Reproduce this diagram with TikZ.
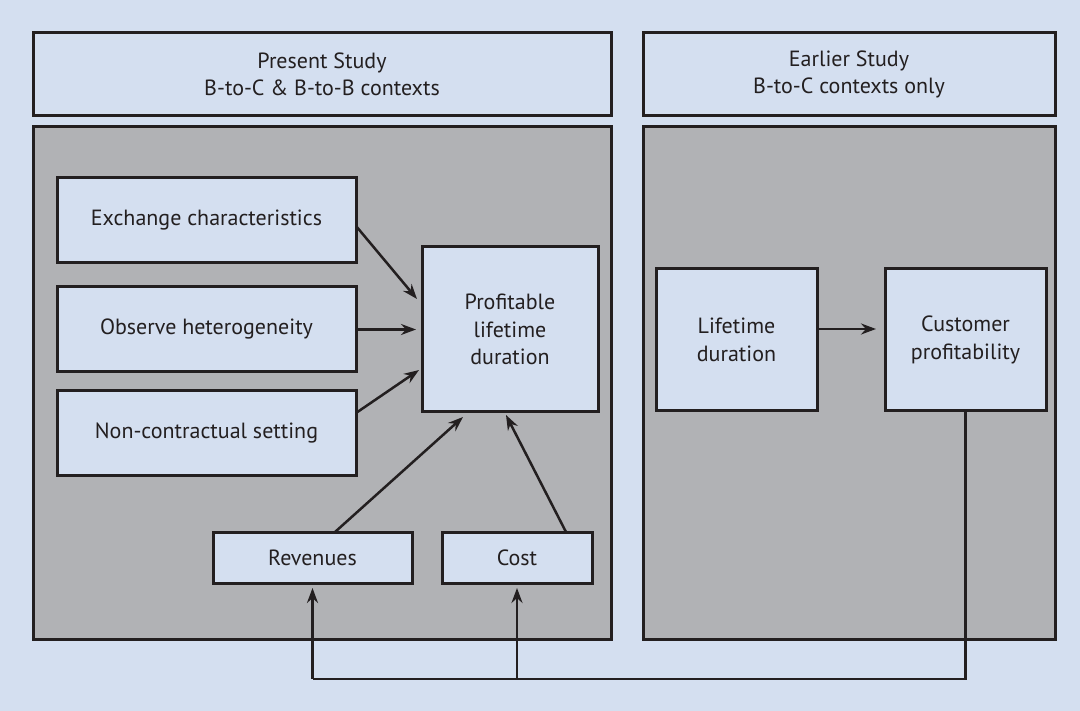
\documentclass[tikz,border=0pt]{standalone}
\usepackage{fontspec}
\setmainfont{PT Sans}
\usetikzlibrary{arrows.meta,calc}
\definecolor{bgblue}{HTML}{D4DFF0}
\definecolor{panelgray}{HTML}{B1B2B5}
\definecolor{ink}{HTML}{231F20}
\begin{document}
\begin{tikzpicture}[x=1pt,y=-1pt,
  every node/.style={font=\fontsize{22}{27.5}\selectfont, text=ink, align=center, inner sep=0pt, outer sep=0pt},
  boxed/.style={draw=ink, line width=3pt, fill=bgblue},
  panel/.style={draw=ink, line width=3pt, fill=panelgray},
  arr/.style={draw=ink, line width=2.5pt, -{Stealth[length=15pt,width=11pt,inset=5pt]}},
  plain/.style={draw=ink, line width=2.5pt}]
\fill[bgblue] (0,0) rectangle (1080,711);
\useasboundingbox (0,0) rectangle (1080,711);
% headers
\node[boxed, minimum width=578, minimum height=83] (hl) at (322,74.5) {Present Study\\B-to-C \& B-to-B contexts};
\node[boxed, minimum width=412, minimum height=83] (hr) at (849,74.5) {Earlier Study\\B-to-C contexts only};
% panels
\node[panel, minimum width=578, minimum height=512] (pl) at (322,383) {};
\node[panel, minimum width=412, minimum height=512] (pr) at (849,383) {};
% left boxes
\node[boxed, minimum width=299, minimum height=85] (ex) at (206.5,220.5) {Exchange characteristics};
\node[boxed, minimum width=299, minimum height=85] (obs) at (206.5,329.5) {Observe heterogeneity};
\node[boxed, minimum width=299, minimum height=85] (non) at (206.5,433.5) {Non-contractual setting};
\node[boxed, minimum width=176, minimum height=165] (pld) at (510,329.5) {Profitable\\lifetime\\duration};
\node[boxed, minimum width=199, minimum height=51] (rev) at (312.5,557.5) {Revenues};
\node[boxed, minimum width=150, minimum height=51] (cost) at (517,557.5) {Cost};
% right boxes
\node[boxed, minimum width=161, minimum height=142] (lt) at (736.5,340) {Lifetime\\duration};
\node[boxed, minimum width=161, minimum height=142] (cp) at (965.5,340) {Customer\\profitability};
% arrows
\draw[arr] ($(ex.east)+(0,5.5)$) -- ($(pld.west)+(-5,-30.5)$);
\draw[arr] (obs.east) -- ($(pld.west)+(-6,0)$);
\draw[arr] ($(non.east)+(0,-20.5)$) -- ($(pld.west)+(-3,40.5)$);
\draw[arr] ($(rev.north)+(22.5,0)$) -- ($(pld.south)+(-47,5)$);
\draw[arr] ($(cost.north)+(49,0)$) -- ($(pld.south)+(-4,3)$);
\draw[arr] ($(lt.east)+(0,-11)$) -- ($(cp.west)+(-9,-11)$);
\coordinate (base) at (0,679);
\draw[plain] (cp.south) -- (cp.south |- base) -- (rev.south |- base);
\draw[arr] (rev.south |- base) -- ($(rev.south)+(0,5)$);
\draw[arr] (cost.south |- base) -- ($(cost.south)+(0,5)$);
\end{tikzpicture}
\end{document}
